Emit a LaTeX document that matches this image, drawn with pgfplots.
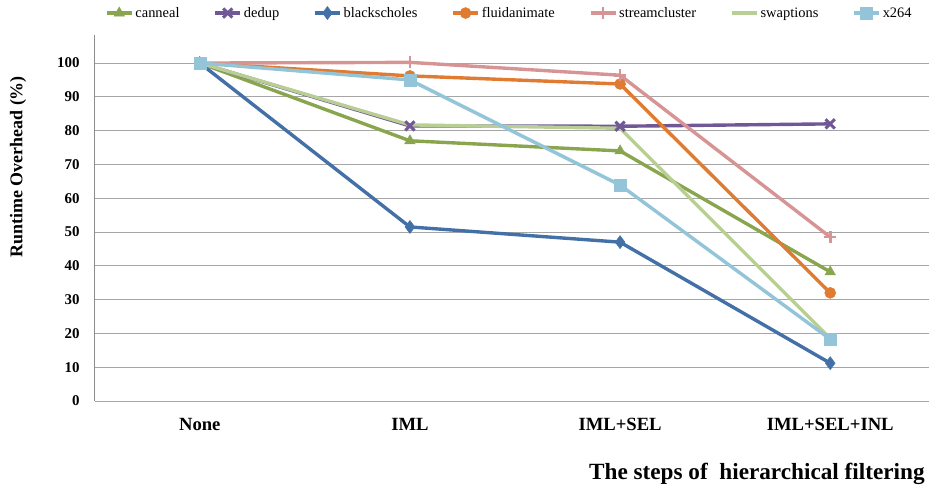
\documentclass[border=0pt]{standalone}
\usepackage{pgfplots}
\pgfplotsset{compat=1.18}
\usepackage{fontspec}
\setmainfont{Liberation Serif}
\definecolor{cCan}{RGB}{137,165,78}
\definecolor{cDed}{RGB}{112,88,150}
\definecolor{cBla}{RGB}{68,112,168}
\definecolor{cFlu}{RGB}{224,123,49}
\definecolor{cStr}{RGB}{214,149,148}
\definecolor{cSwa}{RGB}{185,206,149}
\definecolor{cX}{RGB}{147,196,216}
\begin{document}
\begin{tikzpicture}
\begin{axis}[
  scale only axis, width=834.3bp, height=366bp,
  xmin=-0.5, xmax=3.47, ymin=0, ymax=108.3,
  axis lines*=left,
  x axis line style={draw=none},
  y axis line style={draw=gray!90, line width=0.8bp},
  xtick={0,1,2,3}, xticklabels={None,IML,IML+SEL,IML+SEL+INL},
  ytick={0,10,...,100},
  major tick length=0pt,
  ymajorgrids, grid style={draw=black!35, line width=0.9bp},
  /pgf/number format/assume math mode=true,
  xticklabel style={font=\fontsize{18.7}{20}\selectfont\bfseries, anchor=base, yshift=-29bp},
  yticklabel style={font=\fontsize{15}{17}\selectfont\bfseries, anchor=east, inner sep=0pt, xshift=-15bp},
  ylabel={Runtime Overhead (\%)},
  ylabel style={font=\fontsize{18}{20}\selectfont\bfseries, at={(axis description cs:-0.092,0.64)}, anchor=center},
  xlabel={The steps of\ \ hierarchical filtering},
  xlabel style={font=\fontsize{23.3}{25}\selectfont\bfseries, inner sep=0pt, at={(axis description cs:0.995,-0.199)}, anchor=east},
  legend columns=-1,
  legend style={draw=none, at={(0.497,1.06)}, anchor=center, font=\fontsize{14.5}{16}\selectfont,
    /tikz/every even column/.append style={column sep=32bp}, inner sep=1bp},
  legend cell align=left,
  legend image code/.code={\draw[mark repeat=2,mark phase=2,#1] plot coordinates {(0bp,0bp) (12.5bp,0bp) (25bp,0bp)};},
  pl/.style={line width=3.4bp},
]
\addplot[pl, cCan, mark=triangle*, mark size=6bp, mark options={line width=0.5bp}] coordinates {(0,100) (1,77) (2,74) (3,38.2)};
\addlegendentry{canneal}
\addplot[pl, cDed, mark=x, mark size=6.5bp, mark options={line width=3bp}] coordinates {(0,100) (1,81.4) (2,81.3) (3,82)};
\addlegendentry{dedup}
\addplot[pl, cBla, mark=diamond*, mark size=6.5bp, mark options={line width=0.5bp}] coordinates {(0,100) (1,51.5) (2,47) (3,11.2)};
\addlegendentry{blackscholes}
\addplot[pl, cFlu, mark=*, mark size=5.5bp, mark options={line width=0.5bp}] coordinates {(0,100) (1,96.2) (2,93.8) (3,32)};
\addlegendentry{fluidanimate}
\addplot[pl, cStr, mark=+, mark size=6bp, mark options={line width=2.8bp}] coordinates {(0,100) (1,100.2) (2,96.4) (3,48.5)};
\addlegendentry{streamcluster}
\addplot[pl, cSwa] coordinates {(0,100) (1,81.7) (2,80.7) (3,18.5)};
\addlegendentry{swaptions}
\addplot[pl, cX, mark=square*, mark size=6bp, mark options={line width=0.5bp}] coordinates {(0,100) (1,95) (2,63.9) (3,18.3)};
\addlegendentry{x264}
\end{axis}
\pgfresetboundingbox
\path[use as bounding box] (-94.7bp,-87bp) rectangle (834.3bp,401bp);
\end{tikzpicture}
\end{document}
